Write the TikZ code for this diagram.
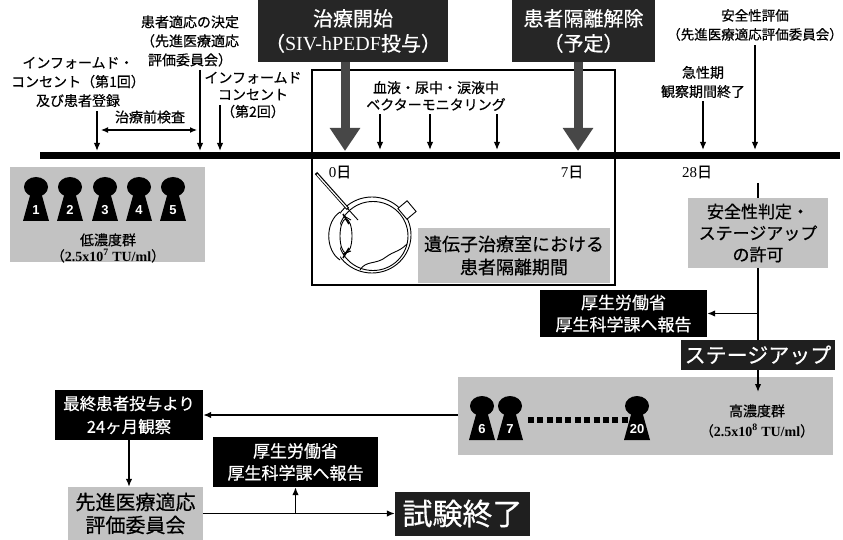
\documentclass[tikz,border=0pt]{standalone}
\usepackage{fontspec}
\setmainfont{Noto Sans CJK JP}[FakeBold=0.5]
\newfontfamily\lat{Liberation Serif}
\newfontfamily\arl{Liberation Sans}
\usetikzlibrary{arrows.meta}

\tikzset{
  pawn/.pic={
    \fill (0,9) ellipse[x radius=12pt, y radius=10pt];
    \fill (-5,14) -- (5,14) -- (13,43) -- (-13,43) -- cycle;
    \node[text=white, inner sep=0pt, font=\arl\bfseries\fontsize{13}{13}\selectfont] (-num) at (0,32) {#1};
  }
}

\begin{document}
\begin{tikzpicture}[x=1pt,y=-1pt,
  lbl/.style={align=center,inner sep=0pt,font=\fontsize{14}{19}\selectfont},
  blk/.style={fill=black,text=white,align=center,inner sep=0pt},
  gbox/.style={fill=black!24,align=center,inner sep=0pt},
  arr/.style={line width=1.4pt,-{Latex[length=8pt,width=6.5pt]}},
  dblarr/.style={line width=1.2pt,{Latex[length=7pt,width=6pt]}-{Latex[length=7pt,width=6pt]}},
  bigarr/.style={line width=9pt,draw=black!72,-{Triangle[length=23pt,width=29pt]}},
  day/.style={inner sep=0pt,font=\fontsize{15}{15}\selectfont},
]
\useasboundingbox (0,0) rectangle (843,540);
\fill[white] (0,0) rectangle (843,540);

% ---------- labels above the time line ----------
\node[lbl] (t1lbl) at (78,82) {インフォームド・\\コンセント（第1回）\\及び患者登録};
\node[lbl] (t2lbl) at (190,41) {患者適応の決定\\（先進医療適応\\評価委員会）};
\node[lbl,font=\fontsize{14}{17}\selectfont] (t3lbl) at (253,95) {インフォームド\\コンセント\\（第2回）};
\node[lbl] (pelbl) at (150,117) {治療前検査};
\node[lbl,font=\fontsize{14}{17}\selectfont] (mon) at (436,96) {血液・尿中・涙液中\\ベクターモニタリング};
\node[lbl] (acute) at (703,82) {急性期\\観察期間終了};
\node[lbl,font=\fontsize{13.5}{19}\selectfont] (safe) at (755,25) {安全性評価\\（先進医療適応評価委員会）};

% ---------- isolation period frame ----------
\node[draw,line width=1.6pt,minimum width=303pt,minimum height=215pt,inner sep=0pt] (iso) at (463.5,177.5) {};

% ---------- time line ----------
\coordinate (tlL) at (40,156);
\coordinate (tlR) at (840,156);
\draw[line width=7pt] (tlL) -- (tlR);

% ---------- black headline boxes ----------
\node[blk,fill=black!85,minimum width=190pt,minimum height=62pt,font=\fontsize{20}{25}\selectfont] (start) at (353,31) {治療開始\\（{\lat SIV-hPEDF}投与）};
\node[blk,fill=black!85,minimum width=143pt,minimum height=62pt,font=\fontsize{20}{25}\selectfont] (release) at (583.5,31) {患者隔離解除\\（予定）};

% ---------- arrows onto the time line ----------
\coordinate (a1) at (97,151);
\coordinate (a2) at (200,151);
\coordinate (a3) at (220,151);
\coordinate (m1) at (380,150);
\coordinate (m2) at (430,150);
\coordinate (m3) at (497,150);
\coordinate (a4) at (703,150);
\coordinate (a5) at (755,150);
\coordinate (d0) at (345,151);
\coordinate (d7) at (578,151);
\coordinate (pe1) at (101,130);
\coordinate (pe2) at (197,130);

\draw[arr] ([yshift=-4pt]t1lbl.south -| a1) -- (a1);
\draw[arr] ([yshift=-3pt]t2lbl.south -| a2) -- (a2);
\draw[arr] ([yshift=-10pt]t3lbl.center -| a3) -- (a3);
\draw[dblarr] (pe1) -- (pe2);
\draw[arr] ([yshift=-3pt]mon.south -| m1) -- (m1);
\draw[arr] ([yshift=-3pt]mon.south -| m2) -- (m2);
\draw[arr] ([yshift=-3pt]mon.south -| m3) -- (m3);
\draw[arr] ([yshift=-3pt]acute.south -| a4) -- (a4);
\draw[arr] ([yshift=-4pt]safe.south -| a5) -- (a5);
\draw[bigarr] (start.south -| d0) -- (d0);
\draw[bigarr] (release.south -| d7) -- (d7);

% ---------- day marks ----------
\node[day] (day0) at (340,172) {{\lat 0}日};
\node[day] (day7) at (572,172) {{\lat 7}日};
\node[day] (day28) at (697,172) {{\lat 28}日};

% ---------- low dose group ----------
\node[gbox,minimum width=195pt,minimum height=95pt] (low) at (107.5,214.5) {};
\foreach \px/\n in {36/1,70/2,105/3,139/4,173/5}
  \pic (p\n) at (\px,178) {pawn=\n};
\node[lbl,font=\fontsize{14}{16}\selectfont] (lowlbl) at (108,248) {低濃度群\\（{\lat\bfseries 2.5x10\textsuperscript{7} TU/ml}）};

% ---------- eye with injection needle ----------
\begin{scope}[line width=0.9pt]
  \draw[fill=white] (372,235) ellipse[x radius=39pt, y radius=38pt];
  \draw (373,236) ellipse[x radius=35pt, y radius=34.5pt];
  \draw[fill=white,rotate around={40:(407,210)}] (401,203) rectangle (413,217);
  \draw[fill=white] (340,212) .. controls (325,222) and (325,250) .. (340,260);
  \draw[fill=white] (346,236) ellipse[x radius=6pt, y radius=17pt];
  \draw[line width=1.6pt] (343,214) -- (349,224);
  \draw[line width=1.6pt] (343,258) -- (349,248);
  \draw (344,216) -- (351,220) (343,254) -- (351,251);
  \draw (360,270) .. controls (366,260) and (376,265) .. (386,257)
        .. controls (394,251) and (399,252) .. (407,244);
  \draw[line width=3.2pt] (316,173) -- (348,209);
  \draw[line width=1.2pt,white] (317,174.5) -- (347,208);
  \draw (348,209) -- (358,220);
\end{scope}

% ---------- isolation label ----------
\node[gbox,minimum width=192pt,minimum height=55pt,font=\fontsize{18}{23}\selectfont] (isolbl) at (514,255.5) {遺伝子治療室における\\患者隔離期間};

% ---------- safety judgement and stage-up ----------
\coordinate (j0) at (758,183);
\node[gbox,minimum width=140pt,minimum height=70pt,font=\fontsize{17}{21.5}\selectfont] (judge) at (758,233) {安全性判定・\\ステージアップ\\の許可};
\node[blk,minimum width=167pt,minimum height=47pt,font=\fontsize{17}{22}\selectfont] (mhlw1) at (623.5,313.5) {厚生労働省\\厚生科学課へ報告};
\node[blk,fill=black!88,minimum width=154pt,minimum height=30pt,font=\fontsize{21}{21}\selectfont] (stageup) at (758,355) {ステージアップ};
\draw[line width=1.4pt] (j0) -- (judge.north);
\draw[line width=1.4pt] (judge.south) -- (stageup.north);
\draw[arr] (judge.south |- mhlw1.east) -- (mhlw1.east);

% ---------- high dose group ----------
\node[gbox,minimum width=375pt,minimum height=78pt] (high) at (645.5,416) {};
\coordinate (hiIn) at (758,392);
\draw[arr] (stageup.south) -- (hiIn);
\pic (p6) at (482,397) {pawn=6};
\pic (p7) at (510,397) {pawn=7};
\pic (p20) at (637,397) {pawn=20};
\draw[line width=6pt,dash pattern=on 6pt off 3.4pt] (p7-num.east |- 0,420) ++(14,0) coordinate (dotL) -- (p20-num.west |- 0,420);
\node[lbl,font=\fontsize{14}{20}\selectfont] (highlbl) at (757,421) {高濃度群\\（{\lat\bfseries 2.5x10\textsuperscript{8} TU/ml}）};

% ---------- final observation and closing ----------
\node[blk,minimum width=148pt,minimum height=50pt,font=\fontsize{16.5}{23}\selectfont] (obs) at (129,415) {最終患者投与より\\24ヶ月観察};
\draw[arr] (high.west |- obs.east) -- (obs.east);
\node[gbox,minimum width=135pt,minimum height=53pt,font=\fontsize{20}{23}\selectfont] (committee) at (135.5,513.5) {先進医療適応\\評価委員会};
\draw[arr] (obs.south) -- (obs.south |- committee.north);
\node[blk,minimum width=165pt,minimum height=50pt,font=\fontsize{17}{22}\selectfont] (mhlw2) at (295.5,462) {厚生労働省\\厚生科学課へ報告};
\node[blk,fill=black!88,minimum width=135pt,minimum height=44pt,font=\fontsize{30}{30}\selectfont] (end) at (462.5,513.5) {試験終了};
\draw[arr] (committee.east) -- (end.west);
\draw[arr] (mhlw2.south |- committee.east) -- (mhlw2.south);
\end{tikzpicture}
\end{document}
